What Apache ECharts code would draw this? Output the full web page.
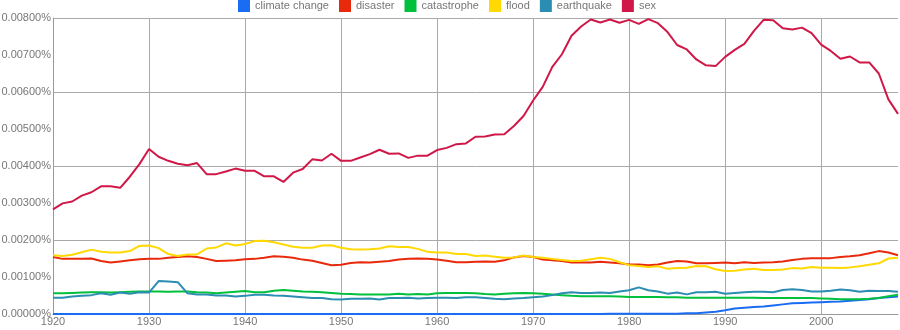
<!DOCTYPE html>
<html><head><meta charset="utf-8">
<script src="https://cdn.jsdelivr.net/npm/echarts@6/dist/echarts.min.js"></script>
<style>html,body{margin:0;padding:0;background:#fff}#c{width:900px;height:330px}</style>
</head><body><div id="c"></div>
<script>
const startYear = 1920;
const endYear = 2008;
const seriesNames = ['climate change','disaster','catastrophe','flood','earthquake','sex'];
const yTicks = ['0.00000%','0.00100%','0.00200%','0.00300%','0.00400%','0.00500%','0.00600%','0.00700%','0.00800%'];
const xTicks = [1920,1930,1940,1950,1960,1970,1980,1990,2000];

// values in percent, one per year 1920..2008
const climateChange = [
0,0,0,0,0,0,0,0,0,0,
0,0,0,0,0,0,0,0,0,0,
0,0,0,0,0,0,0,0,0,0,
0,0,0,0,0,0,0,0,0,0,
0,0,0,0,0,0,0,0,0,0,
0,0,0,0,0,0,0,0,0.00001,0.00001,
0.00001,0.00001,0.00001,0.00001,0.00001,0.00001,0.00002,0.00002,0.00004,0.00006,
0.00010,0.00015,0.00017,0.00019,0.00020,0.00023,0.00026,0.00029,0.00030,0.00031,
0.00032,0.00033,0.00034,0.00036,0.00038,0.00040,0.00043,0.00045,0.00047];
const disaster = [
0.00154,0.00149,0.00149,0.00149,0.00150,0.00143,0.00139,0.00142,0.00145,0.00148,
0.00149,0.00149,0.00152,0.00154,0.00156,0.00154,0.00149,0.00143,0.00144,0.00145,
0.00148,0.00149,0.00152,0.00156,0.00155,0.00152,0.00147,0.00144,0.00138,0.00132,
0.00133,0.00138,0.00140,0.00139,0.00141,0.00143,0.00147,0.00149,0.00150,0.00149,
0.00147,0.00144,0.00140,0.00140,0.00141,0.00142,0.00141,0.00145,0.00153,0.00157,
0.00154,0.00147,0.00145,0.00143,0.00139,0.00139,0.00139,0.00141,0.00139,0.00137,
0.00134,0.00134,0.00132,0.00134,0.00139,0.00143,0.00142,0.00137,0.00137,0.00138,
0.00139,0.00137,0.00140,0.00138,0.00139,0.00140,0.00142,0.00146,0.00149,0.00151,
0.00151,0.00151,0.00154,0.00156,0.00159,0.00164,0.00170,0.00166,0.00159];
const catastrophe = [
0.00056,0.00056,0.00057,0.00058,0.00059,0.00059,0.00058,0.00059,0.00060,0.00061,
0.00061,0.00061,0.00060,0.00061,0.00061,0.00059,0.00058,0.00056,0.00058,0.00060,
0.00062,0.00059,0.00059,0.00063,0.00065,0.00063,0.00061,0.00060,0.00059,0.00057,
0.00055,0.00054,0.00053,0.00053,0.00053,0.00053,0.00055,0.00053,0.00054,0.00053,
0.00056,0.00057,0.00057,0.00057,0.00056,0.00054,0.00053,0.00055,0.00056,0.00057,
0.00056,0.00055,0.00053,0.00051,0.00049,0.00048,0.00048,0.00048,0.00048,0.00047,
0.00046,0.00046,0.00046,0.00046,0.00045,0.00045,0.00044,0.00044,0.00044,0.00044,
0.00044,0.00044,0.00044,0.00044,0.00043,0.00043,0.00043,0.00043,0.00043,0.00043,
0.00042,0.00041,0.00040,0.00040,0.00040,0.00041,0.00043,0.00048,0.00052];
const flood = [
0.00159,0.00157,0.00160,0.00167,0.00174,0.00168,0.00166,0.00166,0.00170,0.00184,
0.00185,0.00178,0.00162,0.00157,0.00161,0.00161,0.00177,0.00180,0.00191,0.00185,
0.00189,0.00197,0.00198,0.00194,0.00188,0.00182,0.00179,0.00179,0.00185,0.00186,
0.00179,0.00175,0.00174,0.00175,0.00177,0.00183,0.00181,0.00181,0.00176,0.00168,
0.00166,0.00166,0.00162,0.00162,0.00157,0.00158,0.00155,0.00152,0.00153,0.00158,
0.00154,0.00152,0.00149,0.00146,0.00143,0.00144,0.00148,0.00152,0.00149,0.00140,
0.00132,0.00130,0.00127,0.00129,0.00122,0.00124,0.00125,0.00130,0.00129,0.00121,
0.00116,0.00117,0.00120,0.00122,0.00119,0.00119,0.00120,0.00124,0.00123,0.00127,
0.00125,0.00125,0.00124,0.00126,0.00129,0.00133,0.00137,0.00150,0.00152];
const earthquake = [
0.00044,0.00044,0.00047,0.00049,0.00051,0.00056,0.00052,0.00058,0.00055,0.00059,
0.00058,0.00089,0.00088,0.00086,0.00056,0.00053,0.00053,0.00050,0.00050,0.00047,
0.00049,0.00052,0.00052,0.00050,0.00049,0.00047,0.00045,0.00043,0.00043,0.00040,
0.00039,0.00041,0.00041,0.00042,0.00039,0.00043,0.00043,0.00044,0.00042,0.00043,
0.00044,0.00044,0.00043,0.00045,0.00045,0.00043,0.00041,0.00040,0.00042,0.00043,
0.00045,0.00047,0.00051,0.00056,0.00059,0.00057,0.00057,0.00058,0.00057,0.00061,
0.00064,0.00072,0.00064,0.00061,0.00055,0.00058,0.00053,0.00059,0.00059,0.00060,
0.00055,0.00057,0.00059,0.00060,0.00060,0.00059,0.00065,0.00067,0.00065,0.00061,
0.00061,0.00063,0.00066,0.00064,0.00060,0.00063,0.00062,0.00062,0.00060];
const sex = [
0.00283,0.00299,0.00304,0.00320,0.00329,0.00345,0.00345,0.00341,0.00371,0.00405,
0.00446,0.00425,0.00414,0.00406,0.00402,0.00408,0.00378,0.00378,0.00385,0.00393,
0.00387,0.00387,0.00372,0.00372,0.00357,0.00382,0.00392,0.00418,0.00415,0.00433,
0.00414,0.00414,0.00423,0.00432,0.00444,0.00433,0.00434,0.00422,0.00428,0.00428,
0.00443,0.00449,0.00459,0.00461,0.00479,0.00480,0.00485,0.00486,0.00508,0.00535,
0.00577,0.00614,0.00668,0.00702,0.00752,0.00777,0.00796,0.00788,0.00796,0.00787,
0.00795,0.00784,0.00797,0.00786,0.00762,0.00727,0.00715,0.00688,0.00672,0.00670,
0.00695,0.00714,0.00730,0.00765,0.00795,0.00794,0.00772,0.00769,0.00774,0.00759,
0.00728,0.00711,0.00690,0.00696,0.00680,0.00680,0.00650,0.00580,0.00541];

const colors = ['#1a6cf2','#e8290c','#00c03c','#ffd900','#2a8db1','#cf1848'];
const allData = [climateChange, disaster, catastrophe, flood, earthquake, sex];

const chart = echarts.init(document.getElementById('c'), null, {renderer:'canvas'});
const font = '"Liberation Sans", Arial, sans-serif';
const gridBox = {left:53, right:2, top:18, bottom:16, containLabel:false, outerBoundsMode:'none'};
chart.setOption({
  animation:false,
  color: colors,
  textStyle:{fontFamily:font},
  legend:{
    top:0, left:238, itemWidth:12, itemHeight:12, itemGap:10,
    icon:'rect', padding:0,
    textStyle:{color:'#777', fontSize:11, fontFamily:font},
    data: seriesNames
  },
  grid:[Object.assign({}, gridBox), Object.assign({}, gridBox)],
  xAxis:[{
    type:'value', gridIndex:0, min:startYear, max:endYear, interval:10,
    axisLine:{show:true, lineStyle:{color:'#999'}},
    axisTick:{show:false},
    splitLine:{show:true, showMaxLine:false, lineStyle:{color:'#aaa', width:1}},
    axisLabel:{color:'#777', fontSize:11, fontFamily:font, margin:2, showMaxLabel:false,
      formatter: v => xTicks.indexOf(v) >= 0 ? String(v) : ''}
  },{
    type:'value', gridIndex:1, min:startYear, max:endYear, show:false
  }],
  yAxis:[{
    type:'value', gridIndex:0, min:0, max:0.008, interval:0.001,
    axisLine:{show:true, lineStyle:{color:'#999'}},
    axisTick:{show:false},
    splitLine:{show:false},
    axisLabel:{color:'#777', fontSize:11, fontFamily:font, margin:2,
      formatter: v => yTicks[Math.round(v/0.001)]}
  },{
    type:'value', gridIndex:1, min:0, max:0.008, interval:0.002,
    axisLine:{show:false}, axisTick:{show:false}, axisLabel:{show:false},
    splitLine:{show:true, lineStyle:{color:'#aaa', width:1}}
  }],
  series: seriesNames.map((n,i)=>({
    name:n, type:'line', xAxisIndex:0, yAxisIndex:0, showSymbol:false, symbol:'none',
    lineStyle:{width:2, color:colors[i]},
    data: allData[i].map((v,k)=>[startYear+k, v])
  }))
});
</script></body></html>
